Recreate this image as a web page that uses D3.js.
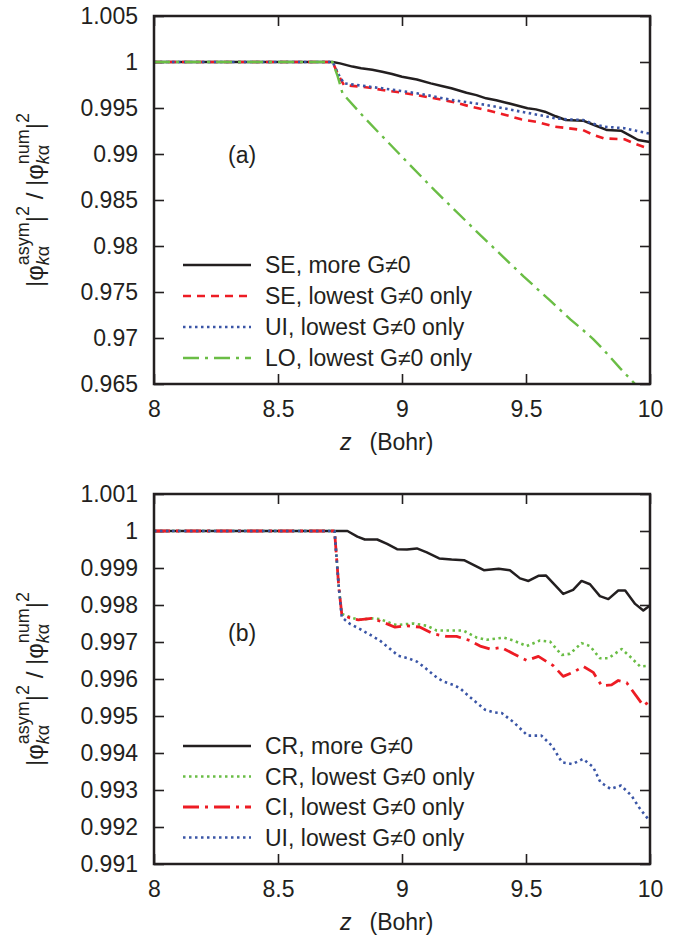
<!DOCTYPE html>
<html>
<head>
<meta charset="utf-8">
<script src="https://cdn.jsdelivr.net/npm/d3@7"></script>
<style>
  body { margin: 0; background: #fff; }
  svg { display: block; font-family: "Liberation Sans", Arial, sans-serif; }
</style>
</head>
<body>
<svg width="682" height="941"></svg>
<script>
// ---- data ----
const zTicks = [8, 8.5, 9, 9.5, 10];
const yTicksA = [1.005, 1, 0.995, 0.99, 0.985, 0.98, 0.975, 0.97, 0.965];
const yTicksB = [1.001, 1, 0.999, 0.998, 0.997, 0.996, 0.995, 0.994, 0.993, 0.992, 0.991];

// panel (a)
const seMore = [[8,1],[8.72,1],[8.75,0.99985],[8.8,0.9995],[8.835,0.99932],[8.88,0.99915],[8.92,0.99895],
  [8.96,0.9987],[9.0,0.9984],[9.06,0.9981],[9.116,0.99768],[9.16,0.9974],[9.199,0.99714],[9.26,0.99665],
  [9.3,0.9964],[9.339,0.99605],[9.38,0.99585],[9.42,0.99558],[9.46,0.9953],[9.506,0.99497],[9.54,0.99485],
  [9.576,0.9946],[9.62,0.9941],[9.66,0.9937],[9.73,0.99362],[9.78,0.9931],[9.827,0.9926],[9.883,0.99253],
  [9.92,0.992],[9.952,0.99152],[10,0.9913]];
const seLowest = [[8,1],[8.72,1],[8.745,0.9985],[8.766,0.9975],[8.82,0.99735],[8.87,0.9972],[8.92,0.99696],
  [8.99,0.9967],[9.06,0.99641],[9.13,0.99605],[9.2,0.99569],[9.27,0.9952],[9.34,0.99478],[9.41,0.9943],
  [9.48,0.99377],[9.55,0.99345],[9.617,0.99297],[9.67,0.9928],[9.73,0.9926],[9.77,0.9921],[9.813,0.9917],
  [9.897,0.9916],[9.94,0.9911],[10,0.99055]];
const uiLowestA = [[8,1],[8.72,1],[8.745,0.9986],[8.766,0.99768],[8.84,0.99742],[8.92,0.99714],[8.99,0.99688],
  [9.06,0.9966],[9.13,0.99625],[9.2,0.99587],[9.27,0.9956],[9.34,0.99533],[9.41,0.99497],[9.48,0.9946],
  [9.55,0.99425],[9.617,0.99388],[9.67,0.99375],[9.73,0.9937],[9.77,0.9933],[9.813,0.99297],[9.897,0.9928],
  [9.94,0.99255],[10,0.9922]];
const loLowest = [[8,1],[8.72,1],[8.74,0.9985],[8.76,0.9966],[8.85,0.9939],[9.0,0.9897],[9.13,0.9861],
  [9.3,0.9816],[9.49,0.9767],[9.6,0.974],[9.68,0.972],[9.72,0.9711],[9.77,0.9699],[9.81,0.9688],
  [9.88,0.9667],[9.95,0.9647]];

// panel (b)
const crMore = [[8,1],[8.76,1],[8.78,1],[8.82,0.99985],[8.85,0.99977],[8.9,0.99977],[8.94,0.99965],
  [8.98,0.99951],[9.02,0.9995],[9.06,0.99953],[9.1,0.99942],[9.15,0.99926],[9.2,0.99923],[9.25,0.99921],
  [9.29,0.99908],[9.33,0.99894],[9.39,0.99898],[9.435,0.99894],[9.476,0.99872],[9.51,0.99865],
  [9.55,0.99879],[9.58,0.9988],[9.615,0.99855],[9.65,0.9983],[9.69,0.99841],[9.724,0.99865],
  [9.758,0.99856],[9.798,0.99824],[9.832,0.99816],[9.872,0.99839],[9.9,0.99839],[9.94,0.99803],
  [9.973,0.99785],[10,0.99799]];
const crLowest = [[8,1],[8.728,1],[8.745,0.9985],[8.757,0.99776],[8.8,0.99765],[8.83,0.9976],[8.878,0.99764],
  [8.911,0.99762],[8.95,0.99752],[8.978,0.99746],[9.046,0.9975],[9.1,0.99744],[9.14,0.99731],[9.207,0.99731],
  [9.247,0.99731],[9.301,0.99712],[9.341,0.99706],[9.41,0.99712],[9.449,0.99704],[9.503,0.99689],
  [9.556,0.99704],[9.597,0.99701],[9.644,0.99665],[9.677,0.99668],[9.724,0.99697],[9.758,0.99689],
  [9.798,0.99656],[9.832,0.99656],[9.886,0.99681],[9.919,0.99661],[9.96,0.99634],[10,0.99636]];
const ciLowest = [[8,1],[8.728,1],[8.745,0.9985],[8.757,0.99776],[8.79,0.99765],[8.824,0.9976],[8.878,0.99764],
  [8.925,0.99753],[8.972,0.9974],[9.019,0.99744],[9.073,0.9974],[9.126,0.99722],[9.18,0.99715],[9.22,0.99715],
  [9.274,0.99704],[9.315,0.99689],[9.355,0.99681],[9.402,0.99685],[9.449,0.99668],[9.503,0.9965],
  [9.55,0.99661],[9.61,0.99636],[9.65,0.99607],[9.69,0.99618],[9.731,0.99634],[9.771,0.99618],
  [9.805,0.99582],[9.845,0.99584],[9.872,0.99596],[9.906,0.9959],[9.933,0.99565],[9.973,0.99528],
  [10,0.99541]];
const uiLowestB = [[8,1],[8.728,1],[8.745,0.9985],[8.757,0.99767],[8.79,0.99749],[8.831,0.99735],
  [8.878,0.99717],[8.911,0.99704],[8.938,0.99689],[8.985,0.99663],[9.025,0.99656],[9.06,0.99647],
  [9.086,0.99634],[9.14,0.99604],[9.167,0.99593],[9.207,0.99584],[9.234,0.99575],[9.274,0.99551],
  [9.308,0.99532],[9.335,0.99517],[9.368,0.9951],[9.402,0.99508],[9.429,0.99494],[9.451,0.99483],
  [9.506,0.99447],[9.562,0.99447],[9.604,0.9942],[9.645,0.99375],[9.687,0.9937],[9.73,0.99384],
  [9.771,0.99362],[9.8,0.99321],[9.841,0.99303],[9.883,0.99312],[9.925,0.99285],[9.96,0.99249],
  [10,0.99215]];

const svg = d3.select("svg");
const ink = "#231f20";
const red = "#ed1c24", blue = "#3a55a6", green = "#6abd45";
const left = 154, right = 650, fs = 23;

function yLabel(cx, cy) {
  // |φ_kα^asym|^2 / |φ_kα^num|^2, rotated
  const outer = svg.append("g").attr("transform", `translate(${cx},${cy}) rotate(-90)`);
  const g = outer.append("g").attr("fill", ink);
  const pieces = [
    { t: "|" }, { t: "φ" }, { t: "kα", sub: true }, { t: "asym", sup: true, stack: true },
    { t: "|" }, { t: "2", sup: true }, { t: "\u00a0/\u00a0|" }, { t: "φ" },
    { t: "kα", sub: true }, { t: "num", sup: true, stack: true }, { t: "|" }, { t: "2", sup: true }
  ];
  let xpos = 0, stackX = 0, lastW = 0;
  pieces.forEach(p => {
    if (p.stack) xpos = stackX;
    const t = g.append("text")
      .attr("x", xpos)
      .attr("y", p.sub ? 6 : p.sup ? -14 : 0)
      .style("font-size", (p.sub || p.sup) ? "18px" : "24px");
    if (p.sub) {
      t.append("tspan").style("font-style", "italic").text("k");
      t.append("tspan").text("α");
    } else {
      t.text(p.t);
    }
    const w = t.node().getComputedTextLength();
    if (p.sub) { stackX = xpos; lastW = w; xpos += w; }
    else if (p.stack) { xpos = stackX + Math.max(w, lastW); }
    else xpos += w;
  });
  g.attr("transform", `translate(${-xpos / 2},0)`);
}

function panel(opt) {
  const x = d3.scaleLinear().domain([8, 10]).range([left, right]);
  const y = d3.scaleLinear().domain(opt.yDomain).range([opt.bottom, opt.top]);
  const g = svg.append("g");

  g.append("clipPath").attr("id", opt.id)
    .append("rect")
    .attr("x", left).attr("y", opt.top)
    .attr("width", right - left).attr("height", opt.bottom - opt.top);

  const styleAxis = sel => {
    sel.select(".domain").remove();
    sel.selectAll(".tick line").attr("stroke", ink).attr("stroke-width", 1.6);
    sel.selectAll(".tick text").attr("fill", ink).style("font-size", fs + "px");
  };

  g.append("g").attr("transform", `translate(${left},0)`)
    .call(d3.axisLeft(y).tickValues(opt.yTicks).tickSizeInner(-10).tickSizeOuter(0)
      .tickPadding(16).tickFormat(d => String(d)))
    .call(styleAxis);
  g.append("g").attr("transform", `translate(${right},0)`)
    .call(d3.axisRight(y).tickValues(opt.yTicks).tickSizeInner(-10).tickSizeOuter(0).tickFormat(""))
    .call(styleAxis);
  g.append("g").attr("transform", `translate(0,${opt.bottom})`)
    .call(d3.axisBottom(x).tickValues(zTicks).tickSizeInner(-10).tickSizeOuter(0)
      .tickPadding(17).tickFormat(d => String(d)))
    .call(styleAxis);
  g.append("g").attr("transform", `translate(0,${opt.top})`)
    .call(d3.axisTop(x).tickValues(zTicks).tickSizeInner(-10).tickSizeOuter(0).tickFormat(""))
    .call(styleAxis);

  const line = d3.line().x(d => x(d[0])).y(d => y(d[1]));

  opt.series.forEach(s => {
    g.append("path")
      .datum(s.data)
      .attr("d", line)
      .attr("fill", "none")
      .attr("stroke", s.color)
      .attr("stroke-width", s.width)
      .attr("stroke-dasharray", s.dash)
      .attr("stroke-linejoin", "round")
      .attr("clip-path", `url(#${opt.id})`);
  });

  // frame
  g.append("rect")
    .attr("x", left).attr("y", opt.top)
    .attr("width", right - left).attr("height", opt.bottom - opt.top)
    .attr("fill", "none").attr("stroke", ink).attr("stroke-width", 2.5);

  // legend
  opt.series.forEach((s, i) => {
    const ry = opt.top + opt.legendTop + i * opt.legendStep;
    g.append("line")
      .attr("x1", 183).attr("x2", 251).attr("y1", ry).attr("y2", ry)
      .attr("stroke", s.color).attr("stroke-width", s.width)
      .attr("stroke-dasharray", s.dash);
    g.append("text")
      .attr("x", 265).attr("y", ry + 8)
      .attr("fill", ink).style("font-size", fs + "px")
      .text(s.name);
  });

  // panel tag
  g.append("text")
    .attr("x", 228).attr("y", opt.top + 147)
    .attr("fill", ink).style("font-size", fs + "px")
    .text(opt.tag);

  // x title
  const xt = g.append("text")
    .attr("x", 340).attr("y", opt.bottom + 66)
    .attr("fill", ink).style("font-size", fs + "px");
  xt.append("tspan").style("font-style", "italic").text("z");
  xt.append("tspan").attr("dx", 18).text("(Bohr)");

  yLabel(43, (opt.top + opt.bottom) / 2);
}

panel({
  id: "clipA", tag: "(a)", top: 16, bottom: 384,
  yDomain: [0.965, 1.005], yTicks: yTicksA,
  legendTop: 249, legendStep: 31,
  series: [
    { name: "SE, more G≠0", data: seMore, color: ink, width: 2.5, dash: null },
    { name: "SE, lowest G≠0 only", data: seLowest, color: red, width: 2.6, dash: "8,6" },
    { name: "UI, lowest G≠0 only", data: uiLowestA, color: blue, width: 2.6, dash: "2.5,3.5" },
    { name: "LO, lowest G≠0 only", data: loLowest, color: green, width: 2.4, dash: "16,6,3,6" }
  ]
});

panel({
  id: "clipB", tag: "(b)", top: 494, bottom: 864,
  yDomain: [0.991, 1.001], yTicks: yTicksB,
  legendTop: 252, legendStep: 30.5,
  series: [
    { name: "CR, more G≠0", data: crMore, color: ink, width: 2.5, dash: null },
    { name: "CR, lowest G≠0 only", data: crLowest, color: green, width: 2.6, dash: "2.5,3.5" },
    { name: "CI, lowest G≠0 only", data: ciLowest, color: red, width: 2.8, dash: "16,6,3,6" },
    { name: "UI, lowest G≠0 only", data: uiLowestB, color: blue, width: 2.6, dash: "2.5,3.5" }
  ]
});
</script>
</body>
</html>
